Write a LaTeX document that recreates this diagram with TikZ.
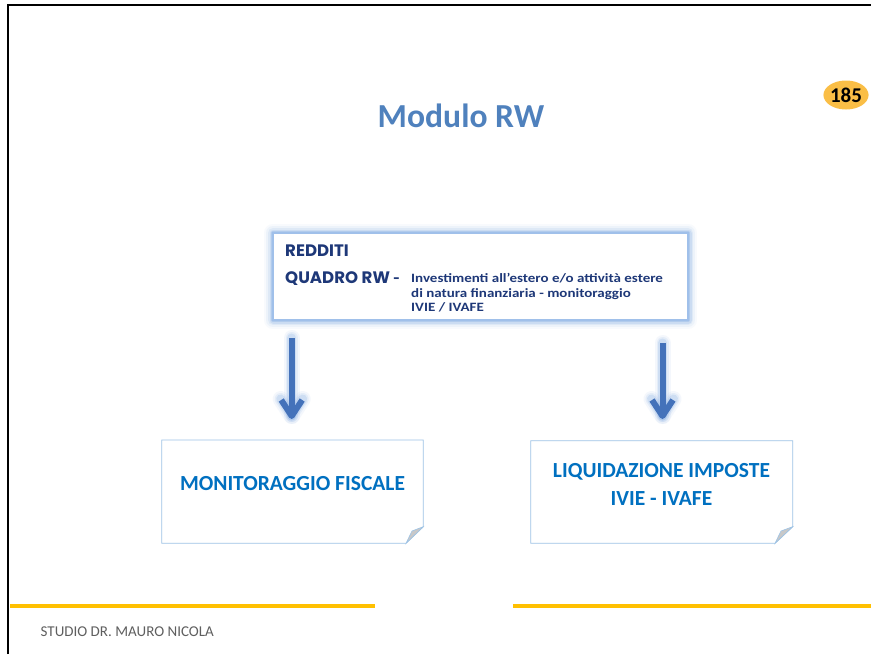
\documentclass[tikz,border=0pt]{standalone}
\usepackage{fontspec}
\setmainfont{Carlito}
\newfontfamily\futb{Poppins}[BoldFont=* Bold]
\newfontfamily\futc{Carlito}[BoldFont=* Bold, FakeStretch=1.18]
\usetikzlibrary{shapes.geometric,calc}
\definecolor{titleblue}{RGB}{79,129,189}
\definecolor{navy}{RGB}{30,56,120}
\definecolor{boxblue}{RGB}{0,112,192}
\definecolor{edgeblue}{RGB}{157,195,230}
\definecolor{arrowblue}{RGB}{68,114,186}
\definecolor{glowblue}{RGB}{120,165,225}
\definecolor{gold}{RGB}{255,192,0}
\definecolor{badge}{RGB}{250,190,70}
\definecolor{footgray}{RGB}{95,95,95}
\definecolor{foldgray}{RGB}{200,200,200}
\tikzset{
  note/.style={draw=edgeblue, line width=0.8pt, fill=white},
  fold/.style={draw=edgeblue, line width=0.6pt, fill=foldgray},
  arrowline/.style={draw=arrowblue, line width=6pt, line join=round},
  glow/.style={draw=glowblue, line cap=round, line join=round},
  goldline/.style={draw=gold, line width=4pt},
  frameline/.style={draw=black, line width=2.5pt},
  boxtxt/.style={text=boxblue, font=\bfseries\fontsize{21.5}{28}\selectfont, align=center, inner sep=0pt},
  headtxt/.style={text=navy, font=\futb\bfseries\fontsize{16.6}{18}\selectfont, anchor=base west, inner sep=0pt},
  bodytxt/.style={text=navy, font=\futc\bfseries\fontsize{12.7}{14.5}\selectfont, anchor=north west, align=left, inner sep=0pt}
}
\begin{document}
\begin{tikzpicture}[x=1pt,y=-1pt]
\useasboundingbox (0,0) rectangle (871,654);
\fill[white] (0,0) rectangle (871,654);
% frame
\draw[frameline] (8,654) -- (8,5) -- (871,5);
% title
\node[text=titleblue, font=\bfseries\fontsize{33.6}{38}\selectfont, anchor=base] (title) at (461,127) {Modulo RW};
% badge
\node[ellipse, fill=badge, minimum width=42, minimum height=29, inner sep=0pt, font=\bfseries\fontsize{21}{23}\selectfont] (badge) at (846,95) {185};
% top box with glow
\foreach \w/\o in {18/0.05, 14/0.08, 10/0.12, 7/0.18, 4/0.3}{
  \draw[glow, line width=\w pt, opacity=\o] (273,233) rectangle (688,320);
}
\draw[fill=white, draw=glowblue!70, line width=1.2pt] (273,233) rectangle (688,320);
\node[coordinate] (topbox) at (480.5,276.5) {};
\node[headtxt] (redditi) at (285,256) {REDDITI};
\node[headtxt] (quadro) at (285,283.3) {QUADRO RW {\futc\bfseries\fontsize{17}{18}\selectfont -}};
\node[bodytxt] (body) at (411,273.5) {Investimenti all’estero e/o attività estere\\di natura finanziaria - monitoraggio\\IVIE / IVAFE};
% bottom boxes
\draw[note] (161.7,440) -- (423.3,440) -- (423.3,526.7) -- (406,543.3) -- (161.7,543.3) -- cycle;
\draw[fold] (406,543.3) -- (423.3,526.7) -- (412,531) -- cycle;
\node[boxtxt] (mon) at (292.5,484) {MONITORAGGIO FISCALE};
\draw[note] (530.7,440.7) -- (792.7,440.7) -- (792.7,526.7) -- (775,543.3) -- (530.7,543.3) -- cycle;
\draw[fold] (775,543.3) -- (792.7,526.7) -- (781,531) -- cycle;
\node[boxtxt] (liq) at (661.5,484) {LIQUIDAZIONE IMPOSTE\\IVIE - IVAFE};
% arrows
\coordinate (a1s) at (291.7,338);
\coordinate (a1t) at (291.7,416);
\coordinate (a2s) at (662.5,343);
\coordinate (a2t) at (662.5,416);
\foreach \s/\t in {a1s/a1t, a2s/a2t}{
  \foreach \w/\o in {16/0.08, 12/0.12, 9/0.2}{
    \draw[glow, line width=\w pt, opacity=\o] (\s) -- (\t);
    \draw[glow, line width=\w pt, opacity=\o] ($(\t)+(-11,-17)$) -- (\t) -- ($(\t)+(11,-17)$);
  }
  \draw[arrowline] (\s) -- (\t);
  \draw[arrowline] ($(\t)+(-10.5,-16)$) -- (\t) -- ($(\t)+(10.5,-16)$);
}
% gold lines and footer
\draw[goldline] (10,606) -- (375,606);
\draw[goldline] (513,606) -- (871,606);
\node[text=footgray, font=\fontsize{15}{17}\selectfont, anchor=base west, inner sep=0pt] (foot) at (40.5,636) {STUDIO DR. MAURO NICOLA};
\end{tikzpicture}
\end{document}
